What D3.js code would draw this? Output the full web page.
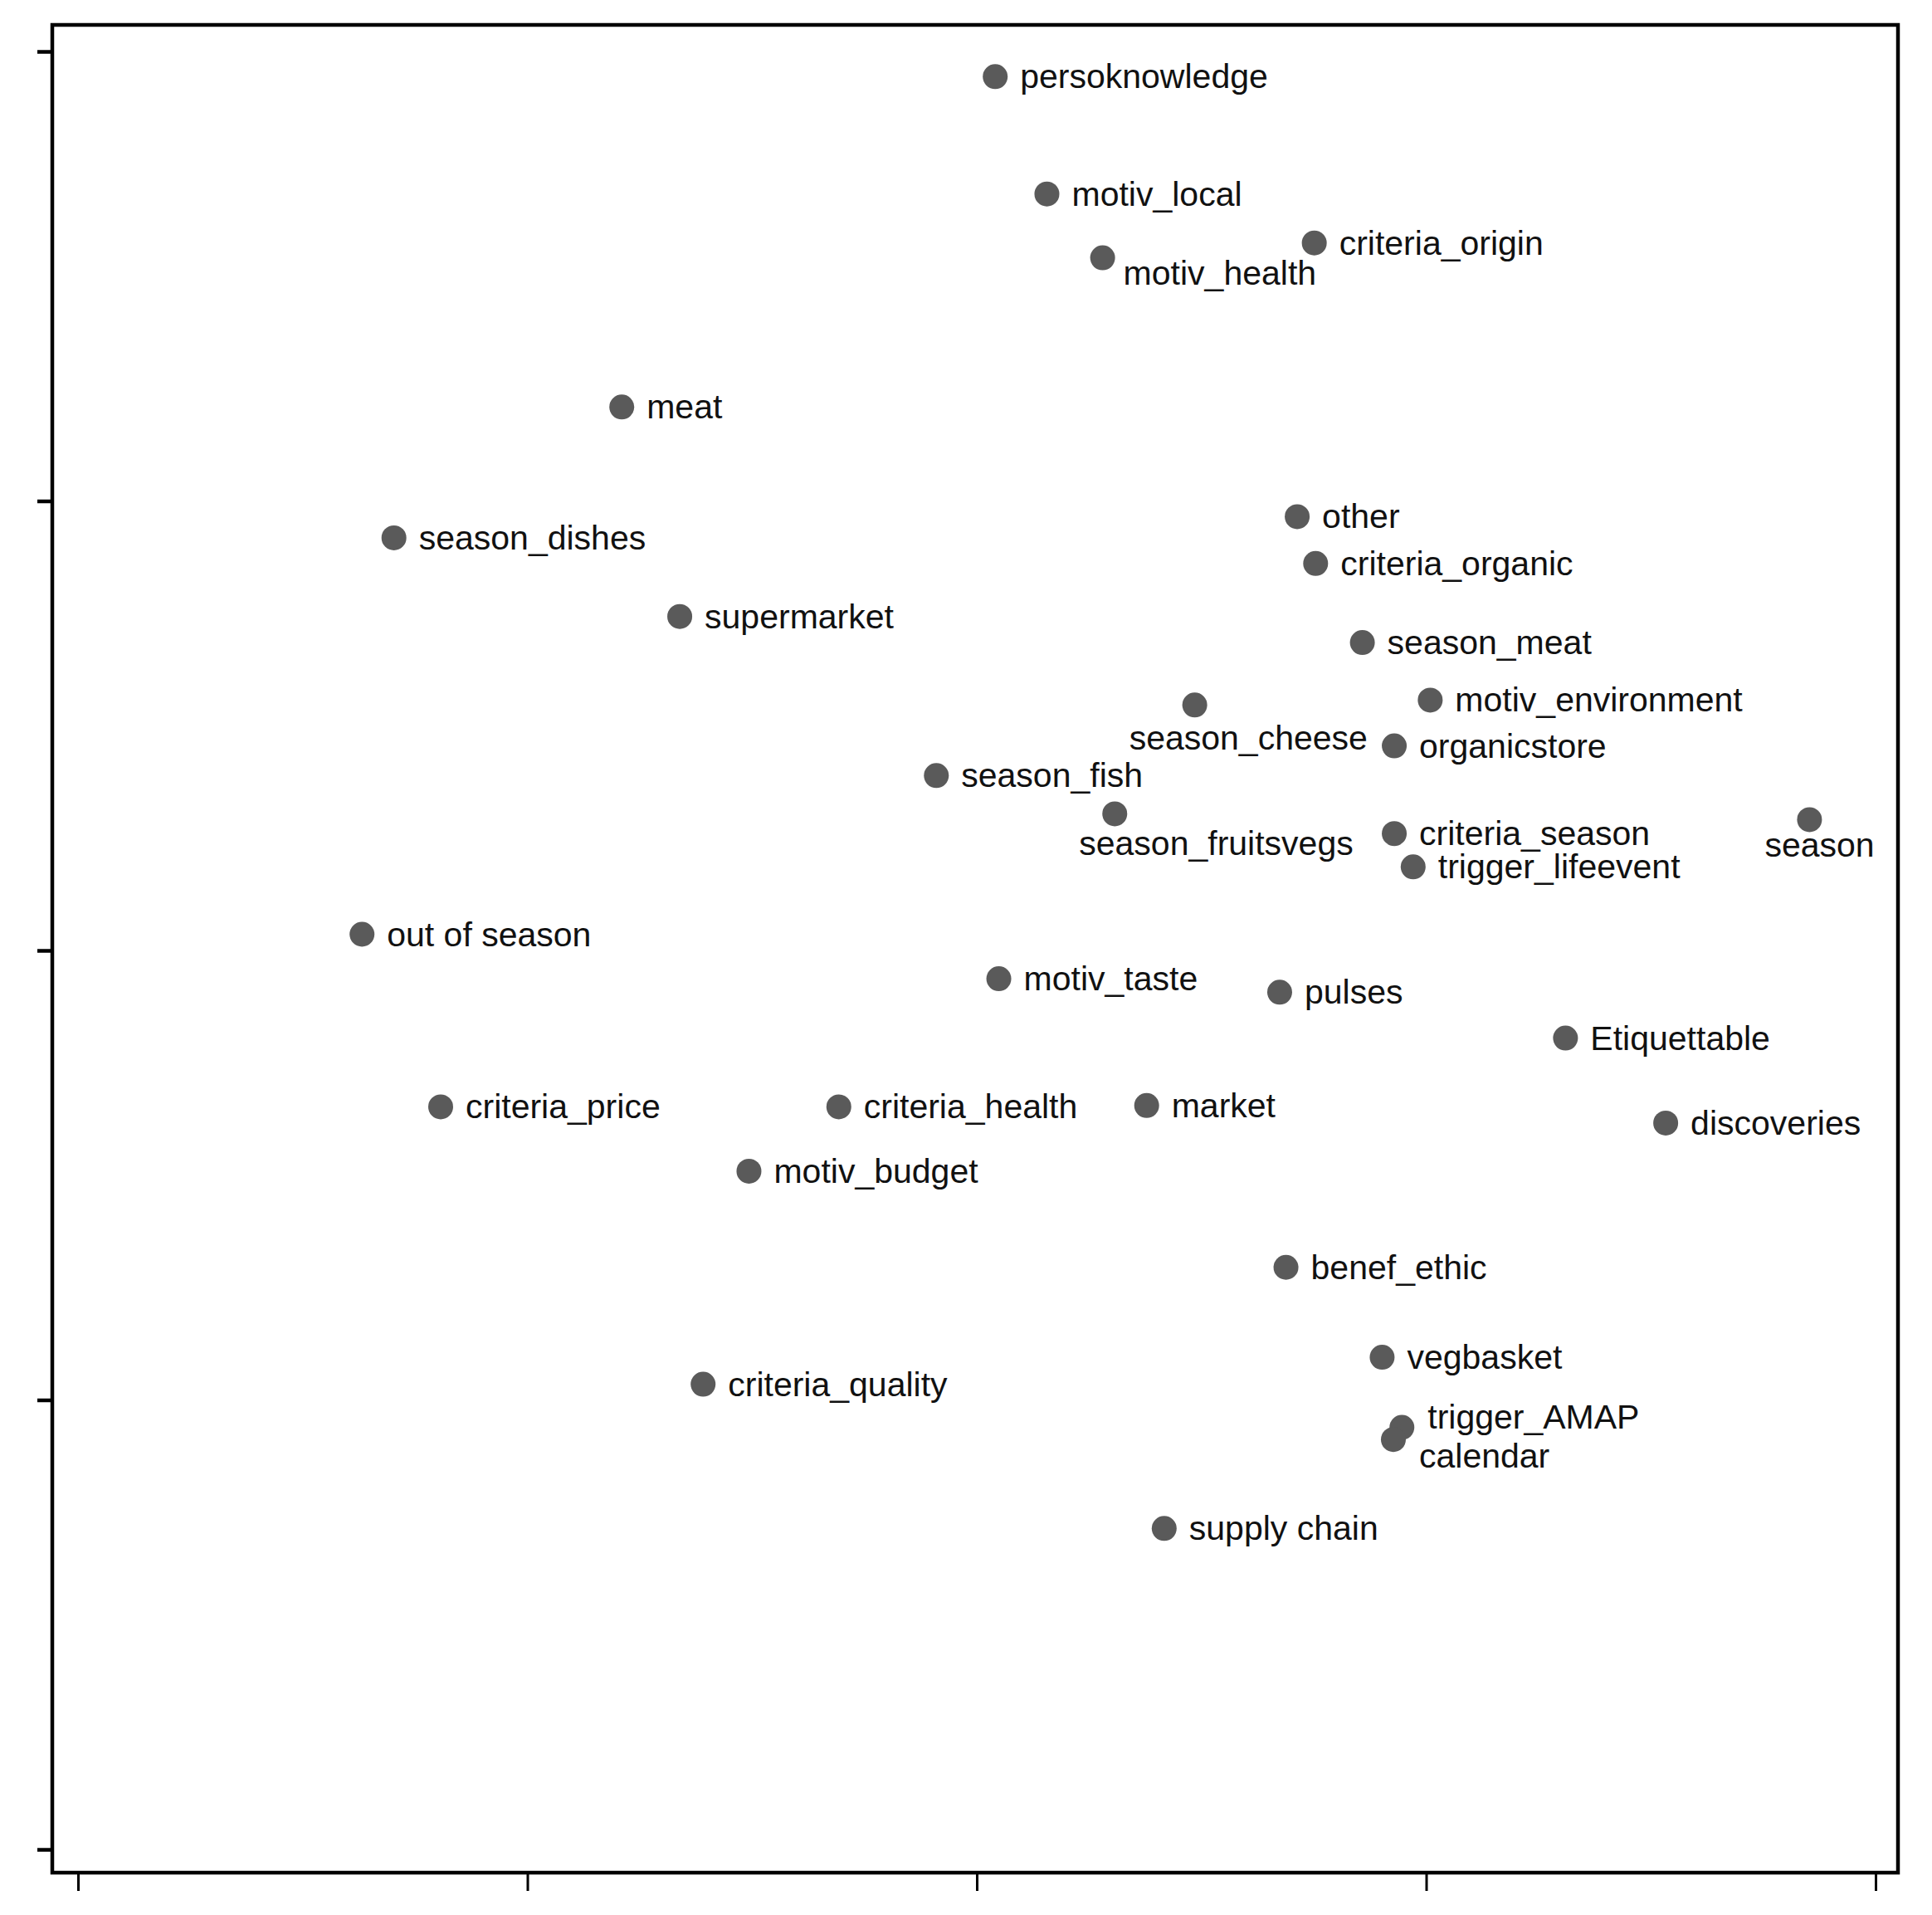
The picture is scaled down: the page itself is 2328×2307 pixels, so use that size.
<!DOCTYPE html>
<html>
<head>
<meta charset="utf-8">
<script src="https://cdn.jsdelivr.net/npm/d3@7"></script>
<style>
  body { margin: 0; background: #fff; }
  text { font-family: "Liberation Sans", Arial, sans-serif; }
</style>
</head>
<body>
<svg id="chart" width="2328" height="2307"></svg>
<script>
// category labels and coordinates (dimension 1 / dimension 2)
const labels = ["persoknowledge", "motiv_local", "motiv_health", "criteria_origin", "meat",
  "season_dishes", "supermarket", "other", "criteria_organic", "season_meat",
  "motiv_environment", "season_cheese", "organicstore", "season_fish", "season_fruitsvegs",
  "criteria_season", "trigger_lifeevent", "season", "out of season", "motiv_taste",
  "pulses", "Etiquettable", "criteria_price", "criteria_health", "market",
  "discoveries", "motiv_budget", "benef_ethic", "vegbasket", "trigger_AMAP",
  "calendar", "criteria_quality", "supply chain"];
const xValues = [0.041, 0.156, 0.280, 0.751, -0.790,
  -1.297, -0.661, 0.713, 0.754, 0.858,
  1.009, 0.485, 0.929, -0.090, 0.307,
  0.929, 0.971, 1.853, -1.368, 0.049,
  0.674, 1.310, -1.193, -0.307, 0.378,
  1.533, -0.507, 0.688, 0.902, 0.946,
  0.927, -0.609, 0.417];
const yValues = [1.944, 1.683, 1.541, 1.574, 1.209,
  0.918, 0.743, 0.965, 0.861, 0.685,
  0.557, 0.546, 0.455, 0.389, 0.304,
  0.260, 0.186, 0.291, 0.036, -0.063,
  -0.093, -0.195, -0.348, -0.348, -0.345,
  -0.384, -0.491, -0.705, -0.905, -1.061,
  -1.088, -0.965, -1.286];
const xTicks = [-2, -1, 0, 1, 2];
const yTicks = [-2, -1, 0, 1, 2];

// label offsets (px) for labels not placed to the right of their point
const labelShift = {
  "motiv_health": [25, 18],
  "season_cheese": [-79, 40],
  "season_fruitsvegs": [-43, 36],
  "season": [-54, 31],
  "trigger_AMAP": [31, -13],
  "calendar": [31, 20]
};

const data = labels.map((l, i) => ({label: l, x: xValues[i], y: yValues[i]}));

const svg = d3.select('#chart');
const box = {left: 63, right: 2287, top: 30, bottom: 2256};

const xScale = d3.scaleLinear().domain([-2, 2]).range([94, 2260]);
const yScale = d3.scaleLinear().domain([2, -2]).range([62, 2228]);

svg.append('rect')
  .attr('x', box.left).attr('y', box.top)
  .attr('width', box.right - box.left).attr('height', box.bottom - box.top)
  .attr('fill', 'none').attr('stroke', '#000').attr('stroke-width', 4.5);

const xAxis = d3.axisBottom(xScale).tickValues(xTicks).tickSize(22).tickFormat('');
svg.append('g')
  .attr('transform', `translate(0,${box.bottom})`)
  .call(xAxis)
  .call(g => g.select('.domain').remove())
  .selectAll('line').attr('stroke', '#000').attr('stroke-width', 3);

const yAxis = d3.axisLeft(yScale).tickValues(yTicks).tickSize(18).tickFormat('');
svg.append('g')
  .attr('transform', `translate(${box.left},0)`)
  .call(yAxis)
  .call(g => g.select('.domain').remove())
  .selectAll('line').attr('stroke', '#000').attr('stroke-width', 4.5);

const pts = svg.append('g').selectAll('g')
  .data(data)
  .enter()
  .append('g')
  .attr('transform', d => `translate(${xScale(d.x)},${yScale(d.y)})`);

pts.append('circle')
  .attr('r', 15)
  .attr('fill', '#5a5a5a');

pts.append('text')
  .attr('x', d => (labelShift[d.label] || [30, 0])[0])
  .attr('y', d => (labelShift[d.label] || [30, 0])[1])
  .attr('dominant-baseline', 'central')
  .attr('font-size', 41)
  .attr('fill', '#111')
  .text(d => d.label);
</script>
</body>
</html>
